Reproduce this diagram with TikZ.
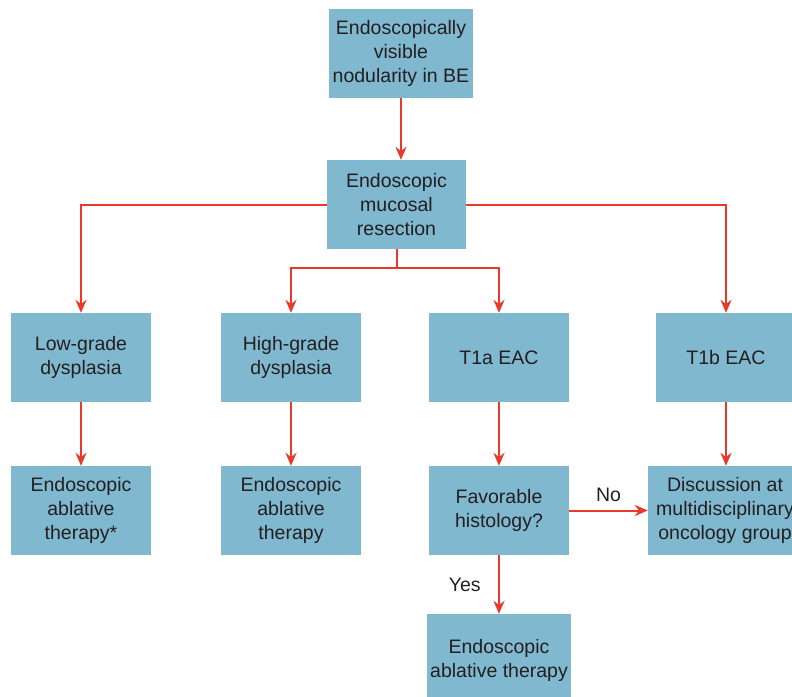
\documentclass[tikz,border=0pt]{standalone}
\usepackage{fontspec}
\setmainfont{Liberation Sans}
\usetikzlibrary{arrows.meta}
\definecolor{boxblue}{HTML}{80B8D0}
\definecolor{arrowred}{HTML}{E8392A}
\definecolor{txtgray}{HTML}{231F20}
\tikzset{
  box/.style={fill=boxblue, text=txtgray, align=center, inner sep=0pt,
    minimum width=140pt, minimum height=89pt, font=\fontsize{19.5}{24}\selectfont},
  link/.style={draw=arrowred, line width=2pt, -{Stealth[length=13pt,width=11pt]}},
  lbl/.style={text=txtgray, font=\fontsize{19.5}{24}\selectfont}
}
\begin{document}
\begin{tikzpicture}[x=1pt,y=-1pt]
  \useasboundingbox (0,0) rectangle (792,696);
  \clip (0,0) rectangle (792,696);
  \node [box, minimum width=144pt] (vis) at (401,53.5) {Endoscopically\\visible\\nodularity in BE};
  \node [box, minimum width=139pt] (emr) at (396.5,204.5) {Endoscopic\\mucosal\\resection};
  \node [box] (lgd) at (81,357.5) {Low-grade\\dysplasia};
  \node [box] (hgd) at (291,357.5) {High-grade\\dysplasia};
  \node [box] (t1a) at (499,357.5) {T1a EAC};
  \node [box] (t1b) at (726,357.5) {T1b EAC};
  \node [box] (ablA) at (81,510.5) {Endoscopic\\ablative\\therapy*};
  \node [box] (ablB) at (291,510.5) {Endoscopic\\ablative\\therapy};
  \node [box] (fav) at (499,510.5) {Favorable\\histology?};
  \node [box, minimum width=154pt] (mdt) at (725,510.5) {Discussion at\\multidisciplinary\\oncology group};
  \node [box, minimum width=144pt, minimum height=92pt] (ablC) at (499,660) {Endoscopic\\ablative therapy};
  %% connectors
  \coordinate (split) at ([yshift=-19pt]emr.south);
  \draw [link] (vis.south) -- (vis.south |- emr.north);
  \draw [link] (emr.west) -| (lgd.north);
  \draw [link] (emr.east) -| (t1b.north);
  \draw [arrowred, line width=2pt] (emr.south) -- (split);
  \draw [link] (split) -| (hgd.north);
  \draw [link] (split) -| (t1a.north);
  \draw [link] (lgd) -- (ablA);
  \draw [link] (hgd) -- (ablB);
  \draw [link] (t1a) -- (fav);
  \draw [link] (t1b) -- (t1b |- mdt.north);
  \draw [link] (fav) -- node [lbl, above, yshift=4pt] {No} (mdt);
  \draw [link] (fav) -- node [lbl, left, xshift=-14pt, yshift=0pt] {Yes} (ablC);
\end{tikzpicture}
\end{document}
